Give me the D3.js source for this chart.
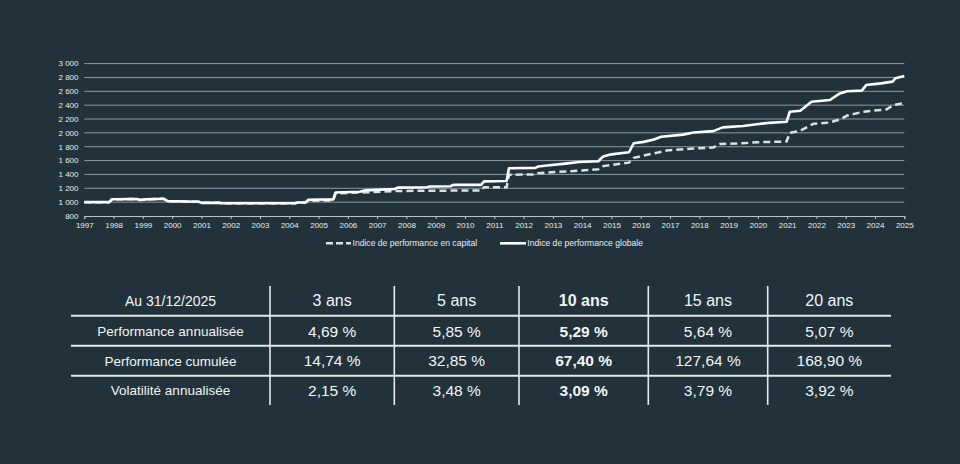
<!DOCTYPE html>
<html>
<head>
<meta charset="utf-8">
<script src="https://cdn.jsdelivr.net/npm/d3@7"></script>
<style>
  html, body { margin: 0; padding: 0; background: #21323a; }
  svg { display: block; font-family: "Liberation Sans", Arial, sans-serif; }
</style>
</head>
<body>
<svg id="chart" width="960" height="464"></svg>
<script>
// Chart data
const globalDates = [1997.0, 1997.85, 1997.95, 1998.8, 1998.9, 1999.1, 1999.7, 1999.85, 2000.5, 2000.9, 2001.0, 2001.6, 2001.7, 2004.2, 2004.3, 2004.55, 2004.65, 2005.5, 2005.58, 2006.4, 2006.6, 2007.6, 2007.7, 2008.7, 2008.8, 2009.5, 2009.6, 2010.55, 2010.65, 2011.42, 2011.5, 2012.4, 2012.5, 2012.8, 2013.5, 2013.9, 2014.55, 2014.72, 2015.0, 2015.6, 2015.76, 2016.1, 2016.45, 2016.7, 2017.45, 2017.8, 2018.48, 2018.8, 2019.5, 2019.96, 2020.4, 2020.98, 2021.09, 2021.45, 2021.83, 2022.46, 2022.8, 2023.05, 2023.55, 2023.7, 2024.2, 2024.6, 2024.7, 2025.0];
const globalValues = [1000, 1000, 1042, 1045, 1030, 1040, 1050, 1015, 1010, 1005, 990, 990, 985, 985, 995, 995, 1035, 1040, 1140, 1150, 1170, 1190, 1210, 1215, 1225, 1230, 1250, 1250, 1300, 1305, 1490, 1495, 1515, 1530, 1560, 1580, 1590, 1660, 1690, 1720, 1850, 1870, 1905, 1945, 1975, 2005, 2025, 2080, 2100, 2125, 2145, 2160, 2305, 2320, 2450, 2475, 2570, 2600, 2610, 2690, 2715, 2740, 2790, 2820];

const capitalDates = [1997.0, 1997.85, 1997.95, 1998.8, 1998.9, 1999.1, 1999.7, 1999.85, 2000.5, 2000.9, 2001.0, 2001.6, 2001.7, 2004.2, 2004.3, 2004.55, 2004.65, 2005.5, 2005.58, 2006.5, 2007.6, 2008.5, 2010.55, 2010.65, 2011.42, 2011.5, 2012.4, 2012.5, 2013.9, 2014.55, 2014.72, 2015.6, 2015.76, 2016.45, 2016.88, 2017.45, 2018.48, 2018.7, 2019.5, 2019.96, 2020.98, 2021.09, 2021.45, 2021.89, 2022.46, 2022.8, 2023.05, 2023.6, 2024.4, 2024.62, 2025.0];
const capitalValues = [1000, 1000, 1042, 1045, 1030, 1040, 1050, 1015, 1010, 1005, 990, 990, 985, 985, 995, 995, 1020, 1025, 1125, 1140, 1160, 1165, 1168, 1215, 1215, 1395, 1400, 1418, 1455, 1475, 1520, 1570, 1640, 1705, 1745, 1765, 1790, 1840, 1850, 1865, 1875, 2000, 2030, 2130, 2150, 2195, 2250, 2305, 2340, 2400, 2430];

const yearTicks = d3.range(1997, 2026);
const valueTicks = d3.range(800, 3001, 200);
const seriesNames = ["Indice de performance en capital", "Indice de performance globale"];

// Table data
const tableCorner = "Au 31/12/2025";
const periods = ["3 ans", "5 ans", "10 ans", "15 ans", "20 ans"];
const rowLabels = ["Performance annualisée", "Performance cumulée", "Volatilité annualisée"];
const annualised = ["4,69 %", "5,85 %", "5,29 %", "5,64 %", "5,07 %"];
const cumulated = ["14,74 %", "32,85 %", "67,40 %", "127,64 %", "168,90 %"];
const volatility = ["2,15 %", "3,48 %", "3,09 %", "3,79 %", "3,92 %"];
const boldPeriod = "10 ans";

// Layout
const svg = d3.select("#chart");
const x = d3.scaleLinear().domain([1997, 2025]).range([84.3, 904.3]);
const y = d3.scaleLinear().domain([800, 3000]).range([216, 63.6]);
const locale = d3.formatLocale({decimal: ",", thousands: " ", grouping: [3], currency: ["", " €"]});
const fmt = locale.format(",d");

// Grid lines
svg.append("g")
    .selectAll("line")
    .data(valueTicks.filter(v => v > 800))
    .enter().append("line")
    .attr("x1", x(1997)).attr("x2", x(2025))
    .attr("y1", d => y(d)).attr("y2", d => y(d))
    .attr("stroke", "#8b9ba1")
    .attr("stroke-width", 1);

// Y axis labels
svg.append("g")
    .selectAll("text")
    .data(valueTicks)
    .enter().append("text")
    .attr("x", 78.5)
    .attr("y", d => y(d))
    .attr("dy", "0.35em")
    .attr("text-anchor", "end")
    .attr("fill", "#e8eef0")
    .attr("font-size", 8)
    .text(d => fmt(d));

// X axis
const xAxis = svg.append("g")
    .attr("transform", `translate(0,${y(800)})`)
    .call(d3.axisBottom(x).tickValues(yearTicks).tickFormat(d3.format("d")).tickSize(3).tickPadding(3));
xAxis.select(".domain").attr("stroke", "#b8c4c8");
xAxis.selectAll(".tick line").attr("stroke", "#b8c4c8");
xAxis.selectAll(".tick text")
    .attr("fill", "#e8eef0")
    .attr("font-size", 8)
    .attr("font-family", "Liberation Sans, Arial, sans-serif");

// Lines
const line = d3.line().x(d => x(d[0])).y(d => y(d[1]));
const capitalData = d3.zip(capitalDates, capitalValues);
const globalData = d3.zip(globalDates, globalValues);

svg.append("path")
    .datum(capitalData)
    .attr("d", line)
    .attr("fill", "none")
    .attr("stroke", "#d9e1e3")
    .attr("stroke-width", 2.5)
    .attr("stroke-dasharray", "7,4");

svg.append("path")
    .datum(globalData)
    .attr("d", line)
    .attr("fill", "none")
    .attr("stroke", "#ffffff")
    .attr("stroke-width", 2.6)
    .attr("stroke-linejoin", "round");

// Legend
const legend = svg.append("g").attr("transform", "translate(0,243.3)");
legend.append("line")
    .attr("x1", 326).attr("x2", 351).attr("y1", 0).attr("y2", 0)
    .attr("stroke", "#d9e1e3").attr("stroke-width", 2.5)
    .attr("stroke-dasharray", "7,3");
legend.append("text")
    .attr("x", 352.5).attr("dy", "0.35em")
    .attr("fill", "#e8eef0").attr("font-size", 8.6)
    .text(seriesNames[0]);
legend.append("line")
    .attr("x1", 500).attr("x2", 526).attr("y1", 0).attr("y2", 0)
    .attr("stroke", "#ffffff").attr("stroke-width", 2.6);
legend.append("text")
    .attr("x", 527.3).attr("dy", "0.35em")
    .attr("fill", "#e8eef0").attr("font-size", 8.6)
    .text(seriesNames[1]);

// Table
const colEdges = [71, 270, 394.3, 519, 648.3, 767.7, 891];
const rowCenters = [300.7, 331.2, 361, 390.3];
const hLines = [315.7, 345.7, 375.7];
const table = svg.append("g");

table.selectAll("line.h")
    .data(hLines)
    .enter().append("line")
    .attr("class", "h")
    .attr("x1", colEdges[0]).attr("x2", colEdges[colEdges.length - 1])
    .attr("y1", d => d).attr("y2", d => d)
    .attr("stroke", "#e4eaec").attr("stroke-width", 2);

table.selectAll("line.v")
    .data(colEdges.slice(1, -1))
    .enter().append("line")
    .attr("class", "v")
    .attr("x1", d => d).attr("x2", d => d)
    .attr("y1", 286).attr("y2", 405)
    .attr("stroke", "#e4eaec").attr("stroke-width", 1.6);

const colCenter = i => (colEdges[i] + colEdges[i + 1]) / 2;

const rows = [
    [tableCorner, ...periods],
    [rowLabels[0], ...annualised],
    [rowLabels[1], ...cumulated],
    [rowLabels[2], ...volatility]
];

rows.forEach((row, r) => {
    table.selectAll(null)
        .data(row)
        .enter().append("text")
        .attr("x", (d, i) => colCenter(i))
        .attr("y", rowCenters[r])
        .attr("dy", "0.35em")
        .attr("text-anchor", "middle")
        .attr("fill", "#f2f5f6")
        .attr("font-size", (d, i) => i === 0 ? (r === 0 ? 14 : 13.5) : (r === 0 ? 16 : 15.5))
        .attr("font-weight", (d, i) => i > 0 && periods[i - 1] === boldPeriod ? "bold" : "normal")
        .text(d => d);
});
</script>
</body>
</html>
